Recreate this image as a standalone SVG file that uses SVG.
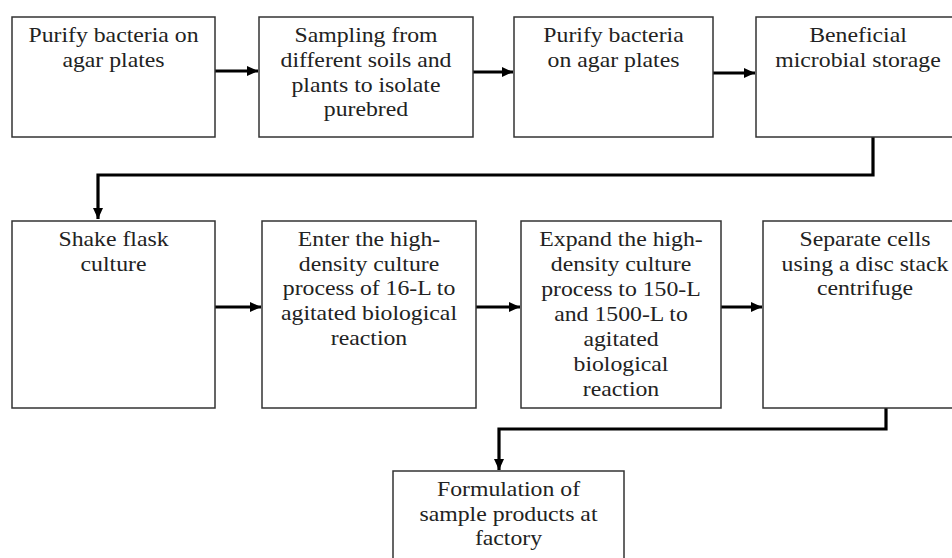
<svg xmlns="http://www.w3.org/2000/svg" width="952" height="558" viewBox="0 0 952 558">
<style>
.box{fill:#fff;stroke:#333;stroke-width:1.5}
.t{font-family:"Liberation Serif","Times New Roman",serif;font-size:22px;fill:#222;text-anchor:middle}
.c{fill:none;stroke:#000;stroke-width:3.2}
</style>
<defs>
<marker id="ah" markerUnits="userSpaceOnUse" markerWidth="12" markerHeight="12" viewBox="0 0 12 12" refX="11" refY="6" orient="auto">
<path d="M0,1 L11,6 L0,11 Z" fill="#000"/>
</marker>
</defs>
<rect width="952" height="558" fill="#fff"/>
<g id="connectors">
<path class="c" d="M215,71 H258" marker-end="url(#ah)"/>
<path class="c" d="M473,72 H513" marker-end="url(#ah)"/>
<path class="c" d="M713,73 H755" marker-end="url(#ah)"/>
<path class="c" d="M873,137 V175 H98 V219" marker-end="url(#ah)"/>
<path class="c" d="M215,307 H261" marker-end="url(#ah)"/>
<path class="c" d="M476,307 H520" marker-end="url(#ah)"/>
<path class="c" d="M721,307 H762" marker-end="url(#ah)"/>
<path class="c" d="M886,408 V429 H499 V470" marker-end="url(#ah)"/>
</g>
<g id="n1">
<rect class="box" x="12" y="17" width="203" height="120"/>
<text class="t" transform="translate(113.5,0) scale(1.08,1)"><tspan x="0" y="42">Purify bacteria on</tspan><tspan x="0" y="67">agar plates</tspan></text>
</g>
<g id="n2">
<rect class="box" x="259" y="17" width="214" height="120"/>
<text class="t" transform="translate(366,0) scale(1.08,1)"><tspan x="0" y="42">Sampling from</tspan><tspan x="0" y="67">different soils and</tspan><tspan x="0" y="92">plants to isolate</tspan><tspan x="0" y="116.5">purebred</tspan></text>
</g>
<g id="n3">
<rect class="box" x="514" y="17" width="199" height="120"/>
<text class="t" transform="translate(613.5,0) scale(1.08,1)"><tspan x="0" y="42">Purify bacteria</tspan><tspan x="0" y="67">on agar plates</tspan></text>
</g>
<g id="n4">
<rect class="box" x="756" y="17" width="206" height="120"/>
<text class="t" transform="translate(858,0) scale(1.08,1)"><tspan x="0" y="42">Beneficial</tspan><tspan x="0" y="67">microbial storage</tspan></text>
</g>
<g id="n5">
<rect class="box" x="12" y="221" width="203" height="187"/>
<text class="t" transform="translate(113.5,0) scale(1.08,1)"><tspan x="0" y="246.5">Shake flask</tspan><tspan x="0" y="271">culture</tspan></text>
</g>
<g id="n6">
<rect class="box" x="262" y="221" width="214" height="187"/>
<text class="t" transform="translate(369,0) scale(1.08,1)"><tspan x="0" y="246.5">Enter the high-</tspan><tspan x="0" y="271">density culture</tspan><tspan x="0" y="295.5">process of 16-L to</tspan><tspan x="0" y="320">agitated biological</tspan><tspan x="0" y="345">reaction</tspan></text>
</g>
<g id="n7">
<rect class="box" x="521" y="221" width="200" height="187"/>
<text class="t" transform="translate(621,0) scale(1.08,1)"><tspan x="0" y="246.5">Expand the high-</tspan><tspan x="0" y="271">density culture</tspan><tspan x="0" y="296">process to 150-L</tspan><tspan x="0" y="321">and 1500-L to</tspan><tspan x="0" y="346">agitated</tspan><tspan x="0" y="371">biological</tspan><tspan x="0" y="396">reaction</tspan></text>
</g>
<g id="n8">
<rect class="box" x="763" y="221" width="204" height="187"/>
<text class="t" transform="translate(865,0) scale(1.08,1)"><tspan x="0" y="246.5">Separate cells</tspan><tspan x="0" y="271">using a disc stack</tspan><tspan x="0" y="295.5">centrifuge</tspan></text>
</g>
<g id="n9">
<rect class="box" x="393" y="471" width="231" height="100"/>
<text class="t" transform="translate(508.5,0) scale(1.08,1)"><tspan x="0" y="496">Formulation of</tspan><tspan x="0" y="521">sample products at</tspan><tspan x="0" y="545.5">factory</tspan></text>
</g>
</svg>
